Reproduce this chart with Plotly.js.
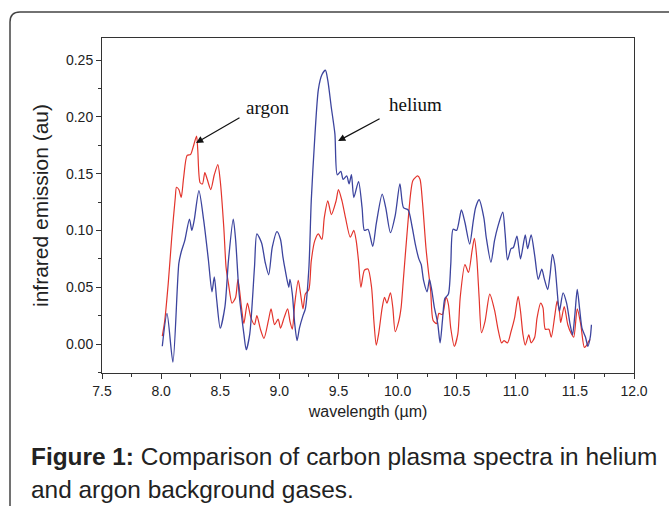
<!DOCTYPE html>
<html>
<head>
<meta charset="utf-8">
<script src="https://cdn.plot.ly/plotly-3.0.1.min.js"></script>
<style>
html,body{margin:0;padding:0;background:#fff;}
#chart{width:669px;height:506px;}
</style>
</head>
<body>
<div id="chart"></div>
<script>
// Helium (blue) spectrum
const heliumWavelength = [8.01,8.05,8.10,8.15,8.17,8.20,8.24,8.26,8.28,8.32,8.36,8.40,8.43,8.45,8.47,8.50,8.54,8.57,8.61,8.63,8.66,8.70,8.72,8.75,8.79,8.81,8.85,8.88,8.91,8.94,8.98,9.01,9.03,9.05,9.08,9.09,9.11,9.13,9.15,9.17,9.20,9.22,9.25,9.27,9.30,9.33,9.36,9.39,9.41,9.44,9.47,9.49,9.52,9.54,9.57,9.59,9.61,9.63,9.67,9.70,9.72,9.75,9.79,9.82,9.87,9.90,9.94,9.98,10.02,10.05,10.09,10.12,10.15,10.18,10.20,10.22,10.25,10.27,10.29,10.31,10.34,10.36,10.38,10.40,10.43,10.45,10.47,10.50,10.54,10.57,10.61,10.64,10.66,10.69,10.73,10.75,10.79,10.82,10.85,10.89,10.91,10.93,10.96,10.98,11.01,11.04,11.08,11.10,11.13,11.16,11.19,11.22,11.24,11.27,11.29,11.31,11.33,11.36,11.37,11.40,11.43,11.46,11.48,11.50,11.52,11.54,11.56,11.59,11.61,11.63,11.64];
const heliumEmission = [-0.002,0.027,-0.016,0.071,0.081,0.091,0.110,0.100,0.109,0.135,0.109,0.074,0.046,0.059,0.039,0.014,0.033,0.074,0.110,0.092,0.044,0.009,-0.005,0.009,0.068,0.097,0.089,0.072,0.061,0.085,0.099,0.092,0.077,0.065,0.050,0.057,0.044,0.018,0.003,0.014,0.025,0.031,0.067,0.126,0.182,0.224,0.237,0.241,0.232,0.208,0.185,0.149,0.152,0.145,0.148,0.141,0.149,0.129,0.143,0.120,0.100,0.101,0.086,0.106,0.132,0.120,0.098,0.113,0.141,0.120,0.118,0.105,0.088,0.075,0.070,0.056,0.046,0.057,0.047,0.033,0.018,0.001,0.021,0.040,0.044,0.070,0.101,0.100,0.118,0.107,0.088,0.108,0.120,0.127,0.111,0.094,0.072,0.091,0.104,0.116,0.097,0.074,0.084,0.085,0.095,0.075,0.096,0.084,0.096,0.078,0.057,0.066,0.058,0.048,0.061,0.079,0.070,0.035,0.029,0.045,0.036,0.017,0.008,0.026,0.048,0.031,0.014,0.006,-0.002,0.006,0.017];

// Argon (red) spectrum
const argonWavelength = [8.01,8.03,8.06,8.09,8.12,8.13,8.15,8.17,8.19,8.22,8.25,8.27,8.30,8.31,8.33,8.35,8.37,8.39,8.42,8.45,8.48,8.50,8.53,8.55,8.57,8.60,8.63,8.65,8.68,8.70,8.73,8.76,8.79,8.81,8.84,8.87,8.91,8.93,8.96,8.99,9.01,9.04,9.07,9.09,9.11,9.13,9.16,9.18,9.20,9.22,9.25,9.27,9.30,9.33,9.36,9.38,9.41,9.44,9.48,9.50,9.53,9.56,9.60,9.63,9.65,9.67,9.69,9.72,9.75,9.78,9.80,9.82,9.84,9.87,9.89,9.91,9.94,9.96,9.98,10.01,10.03,10.05,10.08,10.11,10.13,10.17,10.19,10.21,10.24,10.26,10.28,10.30,10.33,10.35,10.38,10.41,10.43,10.45,10.48,10.51,10.53,10.57,10.60,10.63,10.65,10.67,10.69,10.71,10.74,10.78,10.82,10.85,10.88,10.90,10.93,10.96,10.99,11.02,11.04,11.06,11.08,11.11,11.13,11.16,11.18,11.21,11.23,11.25,11.28,11.30,11.33,11.35,11.37,11.38,11.41,11.44,11.47,11.49,11.52,11.55,11.58,11.60,11.62,11.63];
const argonEmission = [0.007,0.020,0.053,0.094,0.129,0.138,0.136,0.129,0.146,0.166,0.167,0.173,0.183,0.171,0.142,0.141,0.151,0.145,0.136,0.149,0.158,0.144,0.103,0.067,0.053,0.036,0.041,0.057,0.032,0.018,0.036,0.023,0.017,0.025,0.013,0.005,0.022,0.031,0.017,0.022,0.014,0.023,0.031,0.020,0.013,0.035,0.056,0.044,0.031,0.044,0.048,0.073,0.091,0.097,0.092,0.111,0.126,0.114,0.126,0.136,0.126,0.111,0.094,0.100,0.091,0.073,0.050,0.065,0.066,0.050,0.020,-0.001,0.009,0.032,0.041,0.036,0.045,0.032,0.011,0.020,0.032,0.058,0.097,0.132,0.144,0.148,0.145,0.126,0.085,0.065,0.047,0.021,0.018,0.027,0.026,0.041,0.035,0.014,-0.002,0.009,0.041,0.070,0.063,0.082,0.093,0.076,0.041,0.010,0.020,0.044,0.030,0.013,0.001,0.003,0.001,0.011,0.023,0.042,0.029,0.009,-0.001,0.008,0.001,0.006,0.023,0.036,0.032,0.013,0.013,0.006,0.025,0.038,0.028,0.019,0.033,0.017,0.009,0.006,0.031,0.017,-0.003,-0.001,0.003,0.004];

const xTickValues = [7.5,8.0,8.5,9.0,9.5,10.0,10.5,11.0,11.5,12.0];
const yTickValues = [0.00,0.05,0.10,0.15,0.20,0.25];
const captionLine1 = "<b>Figure 1:</b> Comparison of carbon plasma spectra in helium";
const captionLine2 = "and argon background gases.";

// plot-area geometry in pixels
const W = 669, H = 506, L = 102, R = 35, T = 38, B = 133;
const pw = W - L - R, ph = H - T - B;
const px2x = p => (p - L) / pw;
const py2y = p => (H - B - p) / ph;

const traces = [
  {x: argonWavelength, y: argonEmission, type: 'scatter', mode: 'lines', name: 'argon',
   line: {color: '#e3342c', width: 1.2, shape: 'spline', smoothing: 0.7}},
  {x: heliumWavelength, y: heliumEmission, type: 'scatter', mode: 'lines', name: 'helium',
   line: {color: '#3c449e', width: 1.3, shape: 'spline', smoothing: 0.7}}
];

const sans = 'Liberation Sans, Arial, sans-serif';
const axisFont = {family: sans, size: 14, color: '#222'};

const cornerR = 10;
const bx = px2x(10), by = py2y(12);
const cardPath = `M ${bx},${py2y(520)} L ${bx},${py2y(12 + cornerR)} Q ${bx},${by} ${px2x(10 + cornerR)},${by} L ${px2x(680)},${by}`;

const layout = {
  width: W, height: H,
  margin: {l: L, r: R, t: T, b: B},
  paper_bgcolor: '#fff', plot_bgcolor: '#fff',
  showlegend: false,
  xaxis: {
    range: [7.5, 12.0], tickvals: xTickValues, tickformat: '.1f',
    ticks: 'outside', ticklen: 5, tickwidth: 1, tickcolor: '#333',
    minor: {dtick: 0.25, tick0: 7.5, ticks: 'outside', ticklen: 3, tickcolor: '#333', showgrid: false},
    showline: true, linecolor: '#333', linewidth: 1, mirror: true,
    showgrid: false, zeroline: false, tickfont: axisFont,
    title: {text: 'wavelength (µm)', font: {family: sans, size: 16, color: '#222'}, standoff: 8}
  },
  yaxis: {
    range: [-0.0255, 0.2694], tickvals: yTickValues, tickformat: '.2f',
    ticks: 'outside', ticklen: 5, tickwidth: 1, tickcolor: '#333',
    minor: {dtick: 0.025, tick0: 0, ticks: 'outside', ticklen: 3, tickcolor: '#333', showgrid: false},
    showline: true, linecolor: '#333', linewidth: 1, mirror: true,
    showgrid: false, zeroline: false, tickfont: axisFont,
    title: {text: 'infrared emission (au)', font: {family: sans, size: 21, color: '#222'}, standoff: 11}
  },
  shapes: [
    {type: 'path', xref: 'paper', yref: 'paper', path: cardPath, line: {color: '#444', width: 1.5}}
  ],
  annotations: [
    {x: 8.295, y: 0.177, ax: 45, ay: -26, showarrow: true, arrowhead: 2, arrowsize: 1.2, arrowwidth: 1.2, arrowcolor: '#111', text: ''},
    {x: 9.497, y: 0.1787, ax: 43, ay: -23, showarrow: true, arrowhead: 2, arrowsize: 1.2, arrowwidth: 1.2, arrowcolor: '#111', text: ''},
    {x: 8.904, y: 0.2086, text: 'argon', showarrow: false, font: {family: 'Liberation Serif, Times New Roman, serif', size: 19, color: '#111'}},
    {x: 10.148, y: 0.211, text: 'helium', showarrow: false, font: {family: 'Liberation Serif, Times New Roman, serif', size: 19, color: '#111'}},
    {xref: 'paper', yref: 'paper', x: px2x(29), y: py2y(456), xanchor: 'left', yanchor: 'middle', showarrow: false,
     text: captionLine1, font: {family: sans, size: 24.4, color: '#222'}},
    {xref: 'paper', yref: 'paper', x: px2x(29), y: py2y(489), xanchor: 'left', yanchor: 'middle', showarrow: false,
     text: captionLine2, font: {family: sans, size: 24.4, color: '#222'}}
  ]
};

Plotly.newPlot('chart', traces, layout, {displayModeBar: false, staticPlot: true});
</script>
</body>
</html>
